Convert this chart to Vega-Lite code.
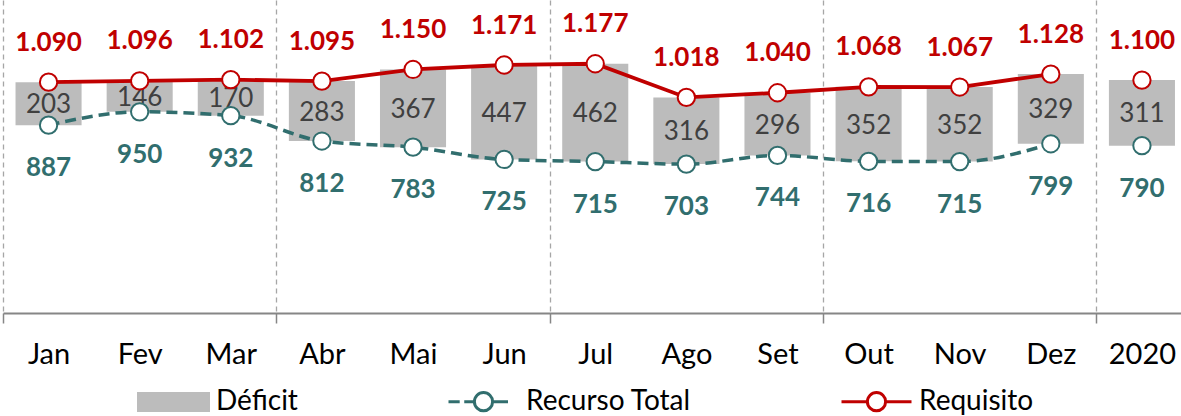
{
  "$schema": "https://vega.github.io/schema/vega-lite/v6.json",
  "width": 1178,
  "height": 313,
  "autosize": {"type": "none"},
  "padding": {"left": 3, "top": 0, "right": 0, "bottom": 103},
  "config": {
    "view": {"stroke": null},
    "font": "Lato",
    "locale": {"number": {"decimal": ",", "thousands": ".", "grouping": [3], "currency": ["R$", ""]}},
    "legend": {
      "title": null, "orient": "none", "legendX": 134, "legendY": 365, "direction": "horizontal",
      "padding": 0, "symbolSize": 4900, "symbolStrokeWidth": 3,
      "labelFont": "Lato", "labelFontSize": 28, "labelColor": "#000000", "labelOffset": 6, "labelLimit": 400,
      "columnPadding": 144
    }
  },
  "data": {
    "values": [
      {"m": "Jan", "req": 1090, "rec": 887, "def": 203},
      {"m": "Fev", "req": 1096, "rec": 950, "def": 146},
      {"m": "Mar", "req": 1102, "rec": 932, "def": 170},
      {"m": "Abr", "req": 1095, "rec": 812, "def": 283},
      {"m": "Mai", "req": 1150, "rec": 783, "def": 367},
      {"m": "Jun", "req": 1171, "rec": 725, "def": 447},
      {"m": "Jul", "req": 1177, "rec": 715, "def": 462},
      {"m": "Ago", "req": 1018, "rec": 703, "def": 316},
      {"m": "Set", "req": 1040, "rec": 744, "def": 296},
      {"m": "Out", "req": 1068, "rec": 716, "def": 352},
      {"m": "Nov", "req": 1067, "rec": 715, "def": 352},
      {"m": "Dez", "req": 1128, "rec": 799, "def": 329},
      {"m": "2020", "req": 1100, "rec": 790, "def": 311}
    ]
  },
  "encoding": {
    "x": {
      "field": "m", "type": "nominal", "sort": null,
      "scale": {"type": "band", "paddingInner": 0, "paddingOuter": 0, "range": [0, 1184.5]},
      "axis": {
        "title": null,
        "tickOffset": -45.56,
        "labelOffset": 45.56,
        "domainColor": "#868686", "domainWidth": 2,
        "ticks": true, "tickSize": 10, "tickColor": "#868686", "tickWidth": 1.5,
        "tickOpacity": {"condition": {"test": "indexof(['Jan','Abr','Jul','Out','2020'], datum.value) >= 0", "value": 1}, "value": 0},
        "grid": true, "gridColor": "#A6A6A6", "gridDash": [5, 4], "gridWidth": 1.3,
        "gridOpacity": {"condition": {"test": "indexof(['Jan','Abr','Jul','Out','2020'], datum.value) >= 0", "value": 1}, "value": 0},
        "labelFont": "Lato", "labelFontSize": 29, "labelColor": "#000000",
        "labelPadding": 17, "labelAngle": 0, "labelBaseline": "top"
      }
    }
  },
  "layer": [
    {
      "mark": {"type": "bar", "width": {"band": 0.725}},
      "encoding": {
        "y": {"field": "rec", "type": "quantitative", "scale": {"domain": [0, 1478], "nice": false}, "axis": null},
        "y2": {"field": "req"},
        "color": {
          "datum": "Déficit",
          "scale": {"domain": ["Déficit", "Recurso Total", "Requisito"], "range": ["#BCBCBC", "#316E6E", "#C00000"]},
          "legend": {
            "encode": {
              "symbols": {
                "update": {
                  "shape": {"signal": "datum.value === 'Déficit' ? 'M-1,-0.243H1V0.243H-1Z' : (datum.value === 'Recurso Total' ? 'M-1,0H-0.68M-0.55,0H-0.26M0.26,0H0.7M0.26,0A0.26,0.26,0,1,1,-0.26,0A0.26,0.26,0,1,1,0.26,0ZM0.26,0A0.26,0.26,0,1,0,-0.26,0A0.26,0.26,0,1,0,0.26,0Z' : 'M-1,0H-0.26M0.26,0H1M0.26,0A0.26,0.26,0,1,1,-0.26,0A0.26,0.26,0,1,1,0.26,0ZM0.26,0A0.26,0.26,0,1,0,-0.26,0A0.26,0.26,0,1,0,0.26,0Z')"},
                  "fill": {"signal": "datum.value === 'Déficit' ? '#BCBCBC' : '#FFFFFF'"},
                  "stroke": {"signal": "datum.value === 'Déficit' ? 'transparent' : (datum.value === 'Requisito' ? '#C00000' : '#316E6E')"},
                  "strokeWidth": {"value": 3},
                  "opacity": {"value": 1}
                }
              }
            }
          }
        }
      }
    },
    {
      "transform": [{"fold": ["rec", "def"], "as": ["key", "value"]}],
      "mark": {"type": "text", "fontSize": 26, "color": "#404040", "baseline": "middle", "dy": 1.5, "font": "Lato"},
      "encoding": {
        "y": {"field": "value", "type": "quantitative", "stack": "zero", "bandPosition": 0.5, "scale": {"domain": [0, 1478], "nice": false}, "axis": null},
        "detail": {"field": "key"},
        "order": {"field": "key", "sort": "descending"},
        "text": {"field": "value", "type": "quantitative", "format": "d"},
        "opacity": {"condition": {"test": "datum.key === 'rec'", "value": 0}, "value": 1}
      }
    },
    {
      "transform": [{"filter": "datum.m !== '2020'"}],
      "mark": {"type": "line", "strokeWidth": 3.5, "strokeDash": [11, 6], "interpolate": "monotone"},
      "encoding": {
        "y": {"field": "rec", "type": "quantitative", "scale": {"domain": [0, 1478], "nice": false}, "axis": null},
        "color": {"datum": "Recurso Total"}
      }
    },
    {
      "transform": [{"filter": "datum.m !== '2020'"}],
      "mark": {"type": "line", "strokeWidth": 3.8},
      "encoding": {
        "y": {"field": "req", "type": "quantitative", "scale": {"domain": [0, 1478], "nice": false}, "axis": null},
        "color": {"datum": "Requisito"}
      }
    },
    {
      "mark": {"type": "point", "shape": "circle", "filled": true, "fill": "#FFFFFF", "stroke": "#316E6E", "strokeWidth": 2, "size": 300, "opacity": 1},
      "encoding": {
        "y": {"field": "rec", "type": "quantitative", "scale": {"domain": [0, 1478], "nice": false}, "axis": null}
      }
    },
    {
      "mark": {"type": "point", "shape": "circle", "filled": true, "fill": "#FFFFFF", "stroke": "#C00000", "strokeWidth": 2, "size": 300, "opacity": 1},
      "encoding": {
        "y": {"field": "req", "type": "quantitative", "scale": {"domain": [0, 1478], "nice": false}, "axis": null}
      }
    },
    {
      "mark": {"type": "text", "fontSize": 26, "fontWeight": "bold", "color": "#C00000", "baseline": "middle", "dy": -39.5, "font": "Lato"},
      "encoding": {
        "y": {"field": "req", "type": "quantitative", "scale": {"domain": [0, 1478], "nice": false}, "axis": null},
        "text": {"field": "req", "type": "quantitative", "format": ",d"}
      }
    },
    {
      "mark": {"type": "text", "fontSize": 26, "fontWeight": "bold", "color": "#316E6E", "baseline": "middle", "dy": 43, "font": "Lato"},
      "encoding": {
        "y": {"field": "rec", "type": "quantitative", "scale": {"domain": [0, 1478], "nice": false}, "axis": null},
        "text": {"field": "rec", "type": "quantitative", "format": ",d"}
      }
    }
  ]
}
